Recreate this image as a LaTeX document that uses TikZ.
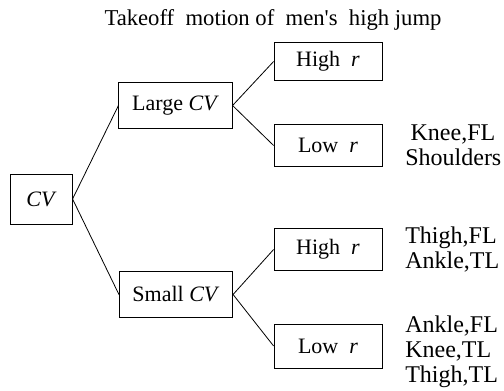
\documentclass[tikz,border=0pt]{standalone}
\usepackage{fontspec}
\setmainfont{Liberation Serif}
\usetikzlibrary{positioning}

\begin{document}
\begin{tikzpicture}[x=0.75pt,y=0.75pt,yscale=-1,xscale=1,
	every node/.style={font=\fontsize{16.5}{18.75}\selectfont},
	cvbox/.style={draw, line width=0.6pt, minimum width=85pt, minimum height=34pt, inner sep=0pt},
	rbox/.style={draw, line width=0.6pt, minimum width=81pt, minimum height=31pt, inner sep=0pt},
	factors/.style={align=left, inner sep=0pt, font=\fontsize{18}{18.75}\selectfont}
	]
	\useasboundingbox (0,0) rectangle (504,391);
	
	% Title
	\node [font=\fontsize{17}{20}\selectfont] (title) at (273,20) {Takeoff\ \ motion of\ \ men\textquotesingle s\ \ high jump};
	
	% Boxes
	\node [cvbox, minimum width=46pt, minimum height=37.5pt] (cv) at (41.5,199) {\textit{CV}};
	\node [cvbox] (largecv) at (175.5,105.5) {Large \textit{CV}};
	\node [cvbox] (smallcv) at (176,294.5) {Small \textit{CV}};
	\node [rbox, minimum height=29pt] (largehigh) at (328,61.5) {High\ \ \textit{r}};
	\node [rbox] (largelow) at (328,145.5) {Low\ \ \textit{r}};
	\node [rbox] (smallhigh) at (328,249.5) {High\ \ \textit{r}};
	\node [rbox, minimum height=33pt] (smalllow) at (328,346) {Low\ \ \textit{r}};
	
	% Branches
	\draw [line width=0.6pt] (cv.east) -- (largecv.west);
	\draw [line width=0.6pt] (cv.east) -- (smallcv.west);
	\draw [line width=0.6pt] (largecv.east) -- (largehigh.west);
	\draw [line width=0.6pt] (largecv.east) -- (largelow.west);
	\draw [line width=0.6pt] (smallcv.east) -- (smallhigh.west);
	\draw [line width=0.6pt] (smallcv.east) -- (smalllow.west);
	
	% Factors
	\node [factors, right=17pt of largelow] (fac1) {\hspace*{4pt}Knee,FL\\Shoulders};
	\node [factors, right=17pt of smallhigh] (fac2) {Thigh,FL\\Ankle,TL};
	\node [factors, right=17pt of smalllow, yshift=-4pt] (fac3) {Ankle,FL\\Knee,TL\\Thigh,TL};
	
\end{tikzpicture}
\end{document}
